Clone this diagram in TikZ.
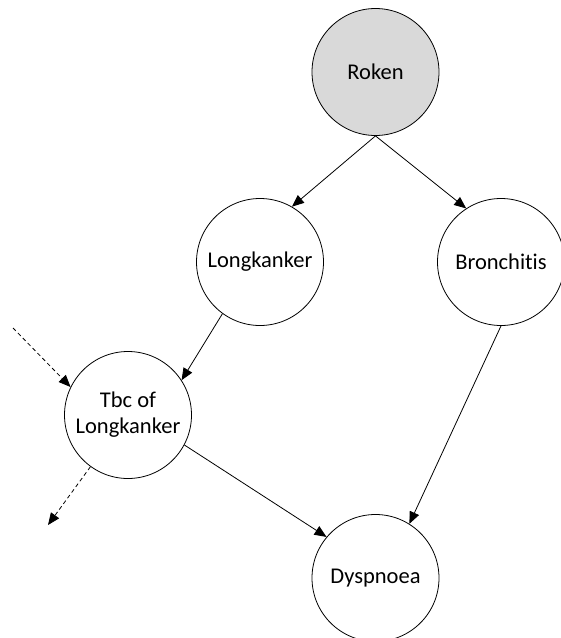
\documentclass[tikz,border=0pt]{standalone}
\usepackage{fontspec}
\setmainfont{Carlito}[Ligatures=NoCommon]
\usetikzlibrary{arrows.meta}
\definecolor{obsfill}{RGB}{217,217,217}
\begin{document}
\begin{tikzpicture}[x=1pt,y=-1pt,
  var/.style={circle,draw,line width=0.8pt,minimum size=127pt,inner sep=0pt,align=center,
              font=\fontsize{22.5}{26}\selectfont},
  obs/.style={var,fill=obsfill},
  edge/.style={line width=0.8pt,-{Triangle[length=12pt,width=10pt]}},
  ext/.style={edge,dash pattern=on 4pt off 3pt}]
\useasboundingbox (0,0) rectangle (561,638);
\node[obs] (roken) at (375.5,72) {Roken};
\node[var] (longk) at (260,262) {Longkanker};
\node[var] (bronch) at (501,262) {Bronchitis};
\node[var] (tbc) at (128,415) {Tbc of\\Longkanker};
\node[var] (dysp) at (375.5,578) {Dyspnoea};
\coordinate (inext) at (13,328);
\coordinate (outext) at (48,525);
\draw[edge] (roken.south) -- (longk.60);
\draw[edge] (roken.south) -- (bronch.123);
\draw[edge] (longk.234) -- (tbc.33);
\draw[edge] (bronch.south) -- (dysp.58);
\draw[edge] (tbc.332) -- (dysp.140);
\draw[ext] (inext) -- (tbc.154);
\draw[ext] (tbc.234) -- (outext);
\end{tikzpicture}
\end{document}
